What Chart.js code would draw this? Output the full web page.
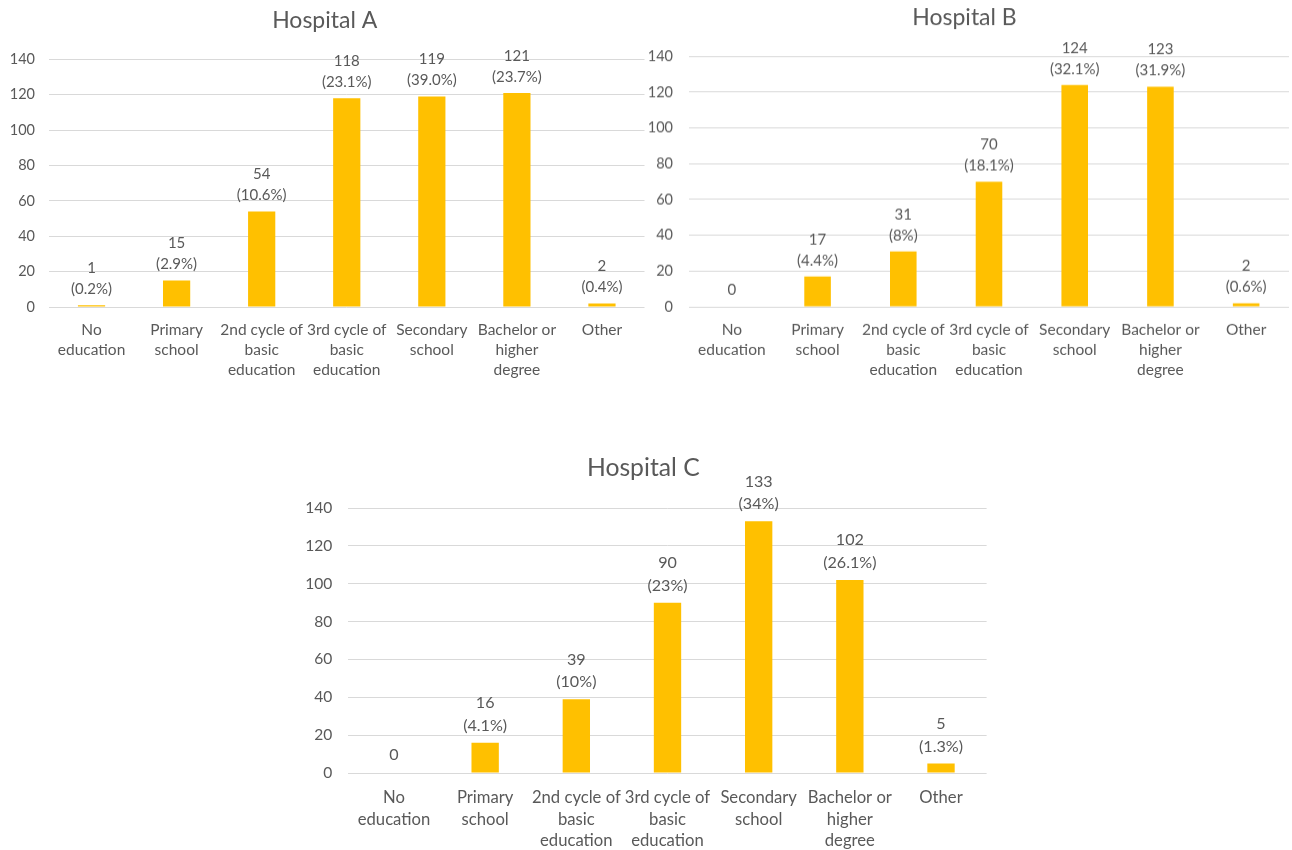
<!DOCTYPE html>
<html>
<head>
<meta charset="utf-8">
<script src="https://cdn.jsdelivr.net/npm/chart.js@4"></script>
<style>
  body { margin: 0; background: #fff; width: 1292px; height: 850px; overflow: hidden; position: relative; }
  canvas { position: absolute; }
</style>
</head>
<body>
<canvas id="chartA"></canvas>
<canvas id="chartB"></canvas>
<canvas id="chartC"></canvas>
<script>
// categories shared by all three hospitals
const categories = [
    ['No', 'education'],
    ['Primary', 'school'],
    ['2nd cycle of', 'basic', 'education'],
    ['3rd cycle of', 'basic', 'education'],
    ['Secondary', 'school'],
    ['Bachelor or', 'higher', 'degree'],
    ['Other']
];

const valuesA = [1, 15, 54, 118, 119, 121, 2];
const pctA = ['0.2%', '2.9%', '10.6%', '23.1%', '39.0%', '23.7%', '0.4%'];

const valuesB = [0, 17, 31, 70, 124, 123, 2];
const pctB = [null, '4.4%', '8%', '18.1%', '32.1%', '31.9%', '0.6%'];

const valuesC = [0, 16, 39, 90, 133, 102, 5];
const pctC = [null, '4.1%', '10%', '23%', '34%', '26.1%', '1.3%'];

const yTicks = { min: 0, max: 140, step: 20 };

const TEXT = '#595959';
const BAR = '#FFC000';
const GRID = '#D9D9D9';
const FONT = 'Lato, "Open Sans", sans-serif';

// draws "value" and "(pct)" above each bar
const barLabels = {
    id: 'barLabels',
    afterDatasetsDraw(chart, args, opts) {
        const ctx = chart.ctx;
        const meta = chart.getDatasetMeta(0);
        const vals = chart.data.datasets[0].data;
        ctx.save();
        ctx.font = opts.size + 'px ' + FONT;
        ctx.fillStyle = TEXT;
        ctx.textAlign = 'center';
        ctx.textBaseline = 'middle';
        meta.data.forEach((bar, i) => {
            const p = opts.pcts[i];
            if (p) {
                ctx.fillText('(' + p + ')', bar.x, bar.y - opts.near);
                ctx.fillText(String(vals[i]), bar.x, bar.y - opts.far);
            } else {
                ctx.fillText(String(vals[i]), bar.x, bar.y - opts.near - 1);
            }
        });
        ctx.restore();
    }
};

function makeChart(id, title, values, pcts, g) {
    const cv = document.getElementById(id);
    cv.width = g.w;
    cv.height = g.h;
    cv.style.left = g.left + 'px';
    cv.style.top = g.top + 'px';
    cv.style.width = g.w + 'px';
    cv.style.height = g.h + 'px';

    const s = g.scale;
    return new Chart(cv, {
        type: 'bar',
        data: {
            labels: categories,
            datasets: [{
                data: values,
                backgroundColor: BAR,
                borderWidth: 0,
                barPercentage: g.barPct,
                categoryPercentage: 1
            }]
        },
        options: {
            responsive: false,
            animation: false,
            devicePixelRatio: 1,
            layout: { padding: { left: 0, right: g.padRight, top: 0, bottom: 0 } },
            plugins: {
                legend: { display: false },
                tooltip: { enabled: false },
                title: {
                    display: true,
                    text: title,
                    color: TEXT,
                    font: { family: FONT, size: 23 * s, weight: 'normal', lineHeight: 1.2 },
                    padding: { top: g.titleTop, bottom: g.titleBottom }
                },
                barLabels: { pcts: pcts, size: 15 * s, near: 16 * s, far: 37 * s }
            },
            scales: {
                x: {
                    grid: { display: false, drawTicks: false },
                    border: { display: false },
                    ticks: {
                        color: TEXT,
                        maxRotation: 0,
                        autoSkip: false,
                        padding: 13 * s,
                        font: { family: FONT, size: 15.5 * s, lineHeight: 1.29 }
                    },
                    afterFit(scale) { scale.height = g.xh; }
                },
                y: {
                    min: yTicks.min,
                    max: yTicks.max,
                    grid: { color: GRID, lineWidth: 1, drawTicks: false },
                    border: { display: false },
                    ticks: {
                        stepSize: yTicks.step,
                        color: TEXT,
                        padding: g.yPad,
                        font: { family: FONT, size: 14.5 * s }
                    },
                    afterFit(scale) { scale.width = g.yw; }
                }
            }
        },
        plugins: [barLabels]
    });
}

makeChart('chartA', 'Hospital A', valuesA, pctA, {
    left: 5, top: 0, w: 650, h: 387, xh: 80, yw: 44, yPad: 14, padRight: 10.5,
    titleTop: 7, titleBottom: 24.7, barPct: 0.32, scale: 1
});

makeChart('chartB', 'Hospital B', valuesB, pctB, {
    left: 640, top: -2.6, w: 652, h: 389.6, xh: 80, yw: 49, yPad: 16, padRight: 3,
    titleTop: 7, titleBottom: 24.7, barPct: 0.31, scale: 1
});

makeChart('chartC', 'Hospital C', valuesC, pctC, {
    left: 300, top: 447, w: 702, h: 403, xh: 77, yw: 48.4, yPad: 16, padRight: 15.4,
    titleTop: 6.2, titleBottom: 25.2, barPct: 0.3, scale: 1.075
});
</script>
</body>
</html>
